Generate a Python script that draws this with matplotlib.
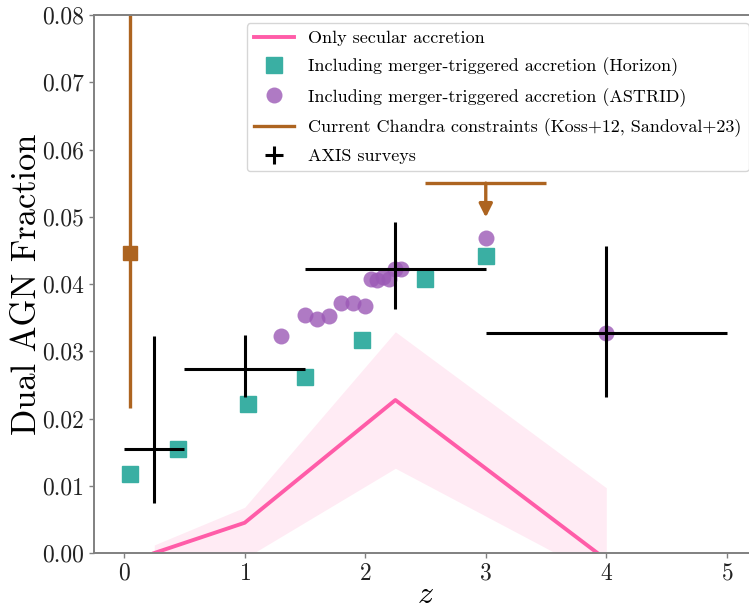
import numpy as np
import matplotlib
matplotlib.use("Agg")
import matplotlib.pyplot as plt
from matplotlib.lines import Line2D

plt.rcParams["font.family"] = "serif"
plt.rcParams["font.serif"] = ["cmr10"]
plt.rcParams["mathtext.fontset"] = "cm"
plt.rcParams["axes.formatter.use_mathtext"] = True

# Only secular accretion (line + band)
z_sec = [0.25, 1.0, 2.25, 4.0]
f_sec = [0.0, 0.0045, 0.02275, -0.001]
f_sec_lo = [-0.003, -0.0008, 0.0126, -0.0040]
f_sec_hi = [0.0012, 0.0068, 0.0329, 0.0097]

# Horizon (merger-triggered)
z_hor = [0.05, 0.45, 1.03, 1.5, 1.97, 2.5, 3.0]
f_hor = [0.0118, 0.0154, 0.0222, 0.0261, 0.0317, 0.0407, 0.0441]

# ASTRID (merger-triggered)
z_ast = [1.3, 1.5, 1.6, 1.7, 1.8, 1.9, 2.0, 2.05, 2.1, 2.15, 2.2, 2.25, 2.3, 3.0, 4.0]
f_ast = [0.0323, 0.0354, 0.0348, 0.0353, 0.0372, 0.0372, 0.0367, 0.0407,
         0.0406, 0.0411, 0.0408, 0.0423, 0.0422, 0.0468, 0.0327]

# Chandra constraints
z_ch = [0.05]
f_ch = [0.0446]
f_ch_lo = [0.0216]
f_ch_hi = [0.1]
z_ch_lim = 3.0
dz_ch_lim = 0.5
f_ch_lim = 0.055
f_ch_lim_tip = 0.0499

# AXIS surveys
z_axis = [0.25, 1.0, 2.25, 4.0]
dz_axis = [0.25, 0.5, 0.75, 1.0]
f_axis = np.array([0.0155, 0.0274, 0.0422, 0.0327])
f_axis_lo = np.array([0.0075, 0.0232, 0.0363, 0.0232])
f_axis_hi = np.array([0.0323, 0.0324, 0.0492, 0.0457])

pink = "#ff5ca8"
teal = "#3aafa3"
purple = "#9b59b6"
brown = "#ad6420"

fig = plt.figure(figsize=(7.49, 6.10), dpi=100)
# axes runs slightly past the right edge of the canvas, as in the original crop
ax = fig.add_axes([94 / 749, 0.0934, 663 / 749, 0.882])

ax.fill_between(z_sec, f_sec_lo, f_sec_hi, color=pink, alpha=0.12, lw=0)
ax.plot(z_sec, f_sec, color=pink, lw=2.8, label="Only secular accretion")
ax.plot(z_hor, f_hor, ls="none", marker="s", ms=11.5, color=teal,
        label="Including merger-triggered accretion (Horizon)")
ax.plot(z_ast, f_ast, ls="none", marker="o", ms=11.5, color=purple, alpha=0.8,
        mec="none", label="Including merger-triggered accretion (ASTRID)")

ch = np.array(f_ch)
ax.errorbar(z_ch, f_ch, yerr=[ch - np.array(f_ch_lo), np.array(f_ch_hi) - ch],
            fmt="s", ms=10, color=brown, elinewidth=2.4, capsize=0)
ax.errorbar([z_ch_lim], [f_ch_lim], xerr=[dz_ch_lim], fmt="none",
            ecolor=brown, elinewidth=2.4, capsize=0)
ax.annotate("", xy=(z_ch_lim, f_ch_lim_tip), xytext=(z_ch_lim, f_ch_lim),
            arrowprops=dict(arrowstyle="-|>", color=brown, lw=2.4,
                            mutation_scale=20, shrinkA=0, shrinkB=0))
ch_handle = Line2D([], [], color=brown, lw=2.4,
                   label="Current Chandra constraints (Koss+12, Sandoval+23)")

ax.errorbar(z_axis, f_axis, xerr=dz_axis,
            yerr=[f_axis - f_axis_lo, f_axis_hi - f_axis],
            fmt="none", ecolor="black", elinewidth=2.2, capsize=0,
            label="AXIS surveys", zorder=5)

handles, labels = ax.get_legend_handles_labels()
handles.insert(3, ch_handle)
labels.insert(3, ch_handle.get_label())
ax.legend(handles, labels, loc="upper right", fontsize=13, frameon=True,
          handlelength=2.2, borderpad=0.4, labelspacing=0.64,
          borderaxespad=0.45)

ax.set_xlim(-0.25, 5.25)
ax.set_ylim(0, 0.08)
ax.set_xticks([0, 1, 2, 3, 4, 5])
ax.set_yticks(np.arange(0, 0.081, 0.01))
ax.set_yticklabels(["%.2f" % v for v in np.arange(0, 0.081, 0.01)])

for s in ["left", "top", "bottom"]:
    ax.spines[s].set_color("#808080")
    ax.spines[s].set_linewidth(1.4)
ax.spines["right"].set_visible(False)
ax.tick_params(direction="out", length=3.5, width=1, color="#808080",
               labelsize=17, labelcolor="#222222")

ax.set_ylabel("Dual AGN Fraction", fontsize=24.8, labelpad=-0.5)
ax.set_xlabel("$z$", fontsize=23, labelpad=-2.5)

fig.savefig("out.png", dpi=100)
